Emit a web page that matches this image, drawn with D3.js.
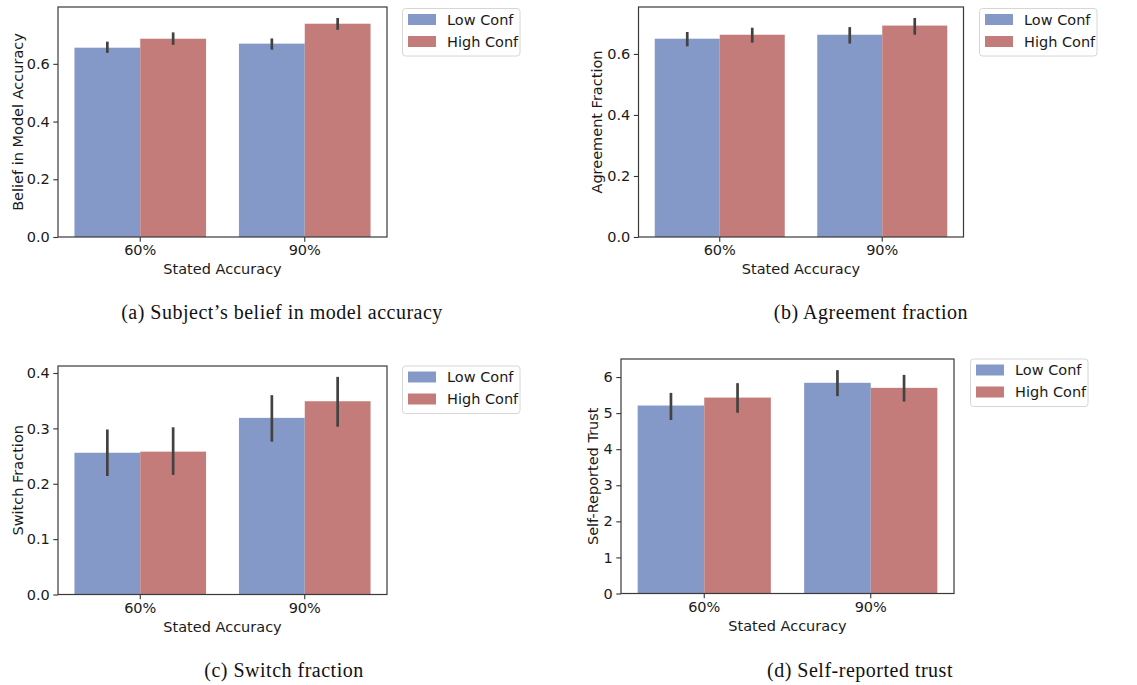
<!DOCTYPE html>
<html>
<head>
<meta charset="utf-8">
<script src="https://cdn.jsdelivr.net/npm/d3@7"></script>
<style>
  body { margin: 0; background: #fff; }
  svg { display: block; }
  .tick text { font-family: "DejaVu Sans", sans-serif; font-size: 14.5px; fill: #1a1a1a; }
  .axis-label, .legend-text { font-family: "DejaVu Sans", sans-serif; font-size: 14.5px; fill: #1a1a1a; }
  .caption { font-family: "Liberation Serif", serif; font-size: 20px; letter-spacing: 0.5px; fill: #111; }
</style>
</head>
<body>
<svg id="chart" width="1137" height="685"></svg>
<script>
const categories = ["60%", "90%"];
const seriesNames = ["Low Conf", "High Conf"];
const seriesColors = ["#8599c8", "#c47c7a"];

// (a) belief in model accuracy
const beliefLow = [0.656, 0.670];
const beliefHigh = [0.687, 0.739];
const beliefLowCI = [[0.638, 0.677], [0.649, 0.688]];
const beliefHighCI = [[0.666, 0.709], [0.718, 0.759]];
const beliefTicks = [0.0, 0.2, 0.4, 0.6];

// (b) agreement fraction
const agreeLow = [0.650, 0.663];
const agreeHigh = [0.663, 0.693];
const agreeLowCI = [[0.625, 0.672], [0.634, 0.688]];
const agreeHighCI = [[0.637, 0.686], [0.663, 0.718]];
const agreeTicks = [0.0, 0.2, 0.4, 0.6];

// (c) switch fraction
const switchLow = [0.256, 0.319];
const switchHigh = [0.258, 0.349];
const switchLowCI = [[0.214, 0.298], [0.276, 0.360]];
const switchHighCI = [[0.216, 0.302], [0.303, 0.393]];
const switchTicks = [0.0, 0.1, 0.2, 0.3, 0.4];

// (d) self-reported trust
const trustLow = [5.21, 5.84];
const trustHigh = [5.43, 5.70];
const trustLowCI = [[4.81, 5.56], [5.47, 6.19]];
const trustHighCI = [[5.01, 5.83], [5.32, 6.06]];
const trustTicks = [0, 1, 2, 3, 4, 5, 6];

const svg = d3.select("#chart");

function drawPanel(opts) {
  const { left, top, width, height, low, high, lowCI, highCI, ticks, fmt, yLabel, yLabelX, legendX, legendY, caption, captionX, captionY } = opts;
  const g = svg.append("g").attr("transform", `translate(${left},${top})`);

  const maxVal = d3.max(lowCI.concat(highCI), (d) => d[1]);
  const y = d3.scaleLinear().domain([0, maxVal * 1.05]).range([height, 0]);
  const x = d3.scaleBand().domain(categories).range([0, width]).paddingInner(0.2).paddingOuter(0.1);
  const xs = d3.scaleBand().domain(seriesNames).range([0, x.bandwidth()]);

  const rows = [];
  categories.forEach((c, i) => {
    rows.push({ cat: c, s: seriesNames[0], v: low[i], ci: lowCI[i], color: seriesColors[0] });
    rows.push({ cat: c, s: seriesNames[1], v: high[i], ci: highCI[i], color: seriesColors[1] });
  });

  g.selectAll("rect.bar")
    .data(rows)
    .join("rect")
    .attr("class", "bar")
    .attr("x", (d) => x(d.cat) + xs(d.s))
    .attr("width", xs.bandwidth())
    .attr("y", (d) => y(d.v))
    .attr("height", (d) => y(0) - y(d.v))
    .attr("fill", (d) => d.color);

  g.selectAll("line.err")
    .data(rows)
    .join("line")
    .attr("class", "err")
    .attr("x1", (d) => x(d.cat) + xs(d.s) + xs.bandwidth() / 2)
    .attr("x2", (d) => x(d.cat) + xs(d.s) + xs.bandwidth() / 2)
    .attr("y1", (d) => y(d.ci[0]))
    .attr("y2", (d) => y(d.ci[1]))
    .attr("stroke", "#424242")
    .attr("stroke-width", 2.7);

  // axes
  const yAxis = g.append("g")
    .call(d3.axisLeft(y).tickValues(ticks).tickFormat(fmt).tickSizeOuter(0).tickSize(4.7).tickPadding(3.5));
  const xAxis = g.append("g")
    .attr("transform", `translate(0,${height})`)
    .call(d3.axisBottom(x).tickSizeOuter(0).tickSize(4.7).tickPadding(3.5));
  [yAxis, xAxis].forEach((a) => {
    a.select(".domain").remove();
    a.selectAll(".tick line").attr("stroke", "#333").attr("stroke-width", 1.1);
  });

  g.append("rect")
    .attr("width", width)
    .attr("height", height)
    .attr("fill", "none")
    .attr("stroke", "#3a3a3a")
    .attr("stroke-width", 1.2);

  g.append("text")
    .attr("class", "axis-label")
    .attr("text-anchor", "middle")
    .attr("x", width / 2)
    .attr("y", height + 37)
    .text("Stated Accuracy");

  g.append("text")
    .attr("class", "axis-label")
    .attr("text-anchor", "middle")
    .attr("transform", `translate(${yLabelX - left},${height / 2}) rotate(-90)`)
    .attr("dy", "0.35em")
    .text(yLabel);

  // legend
  const lg = svg.append("g").attr("transform", `translate(${legendX},${legendY})`);
  lg.append("rect")
    .attr("width", 117.5)
    .attr("height", 47.5)
    .attr("rx", 3)
    .attr("fill", "#fff")
    .attr("stroke", "#d6d6d6")
    .attr("stroke-width", 1);
  seriesNames.forEach((s, i) => {
    lg.append("rect")
      .attr("x", 5.5)
      .attr("y", 5.5 + i * 22)
      .attr("width", 28)
      .attr("height", 11)
      .attr("fill", seriesColors[i]);
    lg.append("text")
      .attr("class", "legend-text")
      .attr("x", 44.5)
      .attr("y", 11 + i * 22)
      .attr("dy", "0.35em")
      .text(s);
  });

  svg.append("text")
    .attr("class", "caption")
    .attr("text-anchor", "middle")
    .attr("x", captionX)
    .attr("y", captionY)
    .text(caption);
}

const fmt1 = d3.format(".1f");
const fmt0 = d3.format("d");

drawPanel({ left: 58, top: 7, width: 329, height: 230, low: beliefLow, high: beliefHigh, lowCI: beliefLowCI, highCI: beliefHighCI,
  ticks: beliefTicks, fmt: fmt1, yLabel: "Belief in Model Accuracy", yLabelX: 18, legendX: 402.5, legendY: 8.5,
  caption: "(a) Subject\u2019s belief in model accuracy", captionX: 282, captionY: 319 });

drawPanel({ left: 638.5, top: 7, width: 325, height: 230, low: agreeLow, high: agreeHigh, lowCI: agreeLowCI, highCI: agreeHighCI,
  ticks: agreeTicks, fmt: fmt1, yLabel: "Agreement Fraction", yLabelX: 597, legendX: 979.5, legendY: 8.5,
  caption: "(b) Agreement fraction", captionX: 871, captionY: 319 });

drawPanel({ left: 58, top: 366, width: 329, height: 228.5, low: switchLow, high: switchHigh, lowCI: switchLowCI, highCI: switchHighCI,
  ticks: switchTicks, fmt: fmt1, yLabel: "Switch Fraction", yLabelX: 17.5, legendX: 402.5, legendY: 366,
  caption: "(c) Switch fraction", captionX: 284, captionY: 677 });

drawPanel({ left: 621, top: 359, width: 333, height: 234.5, low: trustLow, high: trustHigh, lowCI: trustLowCI, highCI: trustHighCI,
  ticks: trustTicks, fmt: fmt0, yLabel: "Self-Reported Trust", yLabelX: 593, legendX: 970.5, legendY: 359,
  caption: "(d) Self-reported trust", captionX: 860, captionY: 677 });
</script>
</body>
</html>
